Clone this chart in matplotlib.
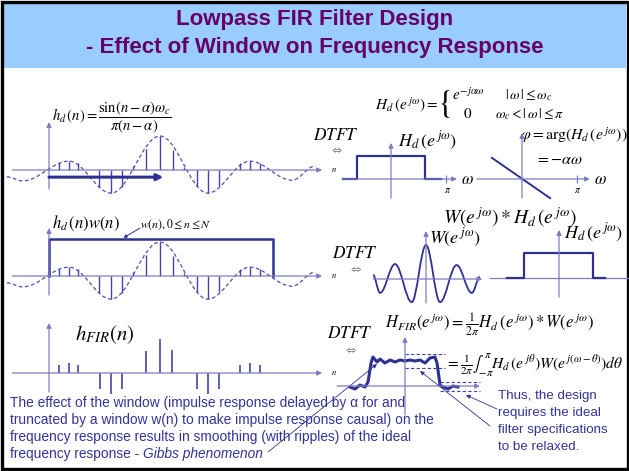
import matplotlib
matplotlib.use('Agg')
import matplotlib.pyplot as plt
from matplotlib.path import Path
from matplotlib.patches import PathPatch, Rectangle

plt.rcParams['font.family'] = ['Liberation Sans', 'DejaVu Sans']
plt.rcParams['mathtext.fontset'] = 'stix'

W, H = 629, 471

# ---------------- data ----------------
# ideal impulse response h_d(n), delayed by alpha = 10 (peak = 1)
hd_n   = [0.9, 1.8, 2.6, 4.5, 5.6, 6.6, 7.6, 8.7, 10.0, 11.2, 12.2, 13.3, 14.3, 15.3, 17.2, 18.1, 19.0]
hd_val = [0.21, 0.26, 0.21, -0.5, -0.68, -0.5, 0.12, 0.62, 1.0, 0.58, 0.09, -0.47, -0.68, -0.47, 0.21, 0.26, 0.21]

# dashed sinc envelope: extrema (n, value)
env_n   = [-3.8, -2.4, 1.8, 5.6, 10.0, 14.3, 18.1, 21.9, 24.0]
env_val = [-0.2, -0.32, 0.26, -0.68, 1.0, -0.68, 0.26, -0.3, 0.12]

# truncated FIR impulse response h_FIR(n)
fir_n   = [0.9, 1.8, 2.6, 4.6, 5.6, 6.6, 8.7, 10.0, 11.1, 13.3, 14.3, 15.3, 17.2, 18.1, 19.0]
fir_val = [0.24, 0.29, 0.24, -0.47, -0.62, -0.47, 0.65, 1.0, 0.68, -0.47, -0.62, -0.47, 0.24, 0.29, 0.24]

# rectangular window w(n), 0 <= n <= N
win_n = [0, 0, 20.2, 20.2]
win_h = [0, 1.09, 1.09, 0]

# ideal lowpass magnitude (top) and phase
hd_w   = [-2.75, -1.96, -1.96, 1.96, 1.96, 2.86]
hd_mag = [0, 0, 1, 1, 0, 0]
ph_w   = [-1.71, 1.6]
ph_val = [1.2, -1.09]

# W(e^jw): extrema of the window spectrum
ww_w   = [-3.01, -2.61, -1.76, -0.81, 0, 0.80, 1.74, 2.60, 3.07]
ww_val = [0.12, -0.41, 0.44, -0.68, 1.0, -0.68, 0.41, -0.41, 0.06]

# ideal lowpass (middle)
hd2_w   = [-2.95, -1.99, -1.99, 1.93, 1.93, 2.61]
hd2_mag = [0, 0, 1, 1, 0, 0]

# resulting H_FIR(e^jw)
fir_w = [-3.13, -2.84, -2.56, -2.27, -2.10, -1.93, -1.82, -1.59, -1.42, -1.14, -0.85, -0.57, -0.28,
         0, 0.28, 0.57, 0.85, 1.14, 1.42, 1.70, 1.82, 1.99, 2.16, 2.44, 2.73, 3.01]
fir_mag = [-0.04, -0.12, 0.04, -0.04, 0.16, 0.92, 1.16, 0.96, 1.08, 0.92, 1.04, 0.96, 1.04,
           1.0, 1.04, 1.0, 1.04, 0.92, 1.12, 1.16, 0.92, 0.04, -0.04, -0.12, 0.0, -0.04]
pass_tol = [1.28, 0.72]
stop_tol = [0.16, -0.2]

text_left = ["The effect of the window (impulse response delayed by \u03b1 for and",
             "truncated by a window w(n) to make impulse response causal) on the",
             "frequency response results in smoothing (with ripples) of the ideal",
             "frequency response - "]
text_right = ["Thus, the design", "requires the ideal", "filter specifications", "to be relaxed."]

# ---------------- style ----------------
AX_C = '#7C7CC2'
STEM_C = '#4545A5'
DASH_C = '#5050B0'
HEAVY = '#2E3192'
TXT_C = '#333399'
TITLE_C = '#660066'

fig = plt.figure(figsize=(W / 100, H / 100), dpi=100)
ax = fig.add_axes([0, 0, 1, 1])
ax.set_xlim(0, W)
ax.set_ylim(H, 0)
ax.axis('off')

ax.add_patch(Rectangle((3, 3), 623, 65, facecolor='#99CCFF', edgecolor='none'))
ax.add_patch(Rectangle((1.5, 1.5), 626, 467, facecolor='none', edgecolor='black', lw=2.4))

ax.text(315, 20, 'Lowpass FIR Filter Design', ha='center', va='center',
        fontsize=16, fontweight='bold', color=TITLE_C)
ax.text(315, 48, '- Effect of Window on Frequency Response', ha='center', va='center',
        fontsize=16, fontweight='bold', color=TITLE_C)


def panel(ox, oy, sx, sy, xlim, ylim):
    x0 = ox + xlim[0] * sx
    x1 = ox + xlim[1] * sx
    yt = oy - ylim[1] * sy
    yb = oy - ylim[0] * sy
    a = fig.add_axes([x0 / W, 1 - yb / H, (x1 - x0) / W, (yb - yt) / H])
    a.set_xlim(*xlim)
    a.set_ylim(*ylim)
    a.axis('off')
    return a


def arrow(a, x0, y0, x1, y1, color=AX_C, lw=0.9, ms=7):
    a.annotate('', xy=(x1, y1), xytext=(x0, y0), annotation_clip=False,
               arrowprops=dict(arrowstyle='-|>', color=color, lw=lw, mutation_scale=ms,
                               shrinkA=0, shrinkB=0))


def smooth(xs, ys, k=0.36):
    verts = [(xs[0], ys[0])]
    codes = [Path.MOVETO]
    for i in range(len(xs) - 1):
        d = xs[i + 1] - xs[i]
        verts += [(xs[i] + k * d, ys[i]), (xs[i + 1] - k * d, ys[i + 1]), (xs[i + 1], ys[i + 1])]
        codes += [Path.CURVE4] * 3
    return Path(verts, codes)


def t(x, y, s, size, **kw):
    kw.setdefault('va', 'center')
    kw.setdefault('color', 'black')
    return ax.text(x, y, s, fontsize=size, **kw)


# ---------------- left column ----------------
SX, SY = 11.1, 34
for oy, top in [(170, 1.41), (276, 1.41), (373, 1.47)]:
    a = panel(49, oy, SX, SY, (-4.2, 26.5), (-0.8, 1.6))
    arrow(a, -3.3, 0, 24.6, 0)
    arrow(a, 0, -0.56, 0, top)
    a.text(25.4, 0, '$n$', fontsize=6, va='center', color='black')
    if oy < 300:
        a.add_patch(PathPatch(smooth(env_n, env_val), fill=False, ls=(0, (3, 2)), lw=0.9, color=DASH_C))
        a.vlines(hd_n, 0, hd_val, color=STEM_C, lw=1.0)
        if oy == 170:
            arrow(a, 0, -0.21, 10.3, -0.21, color=HEAVY, lw=2.2, ms=9)
        else:
            a.plot(win_n, win_h, color=HEAVY, lw=1.8)
            arrow(a, 8.2, 1.41, 6.7, 1.12, color=HEAVY, lw=0.7, ms=5)
    else:
        a.vlines(fir_n, 0, fir_val, color=STEM_C, lw=1.2)

t(52, 117, r'$h_d\,(n)=\dfrac{\sin(n-\alpha)\omega_c}{\pi(n-\alpha)}$', 10.5)
t(52, 223, r'$h_d\,(n)w(n)$', 12)
t(140, 225, r'$w(n),0\leq n\leq N$', 8.5)
t(75, 335, r'$h_{FIR}(n)$', 15)

# ---------------- right column ----------------
RS = 17.6
# top: ideal magnitude
a = panel(391, 179, RS, 23, (-3.0, 4.6), (-1.0, 1.8))
arrow(a, -2.75, 0, 3.75, 0)
arrow(a, 0, -0.83, 0, 1.57)
a.plot(hd_w, hd_mag, color=HEAVY, lw=1.6)
a.vlines(3.14, -0.17, 0.17, color=AX_C, lw=0.9)
# top: phase
a = panel(522, 179, RS, RS, (-2.8, 4.2), (-1.3, 2.8))
arrow(a, -2.56, 0, 3.86, 0)
arrow(a, 0, -1.08, 0, 2.61)
a.plot(ph_w, ph_val, color=HEAVY, lw=1.4)
a.vlines(3.14, -0.23, 0.23, color=AX_C, lw=0.9)

t(375, 105, r'$H_d\,(e^{\,j\omega})=$', 11)
ax.text(438, 104, '{', fontsize=24, family='STIXGeneral', va='center', color='black')
t(452, 95, r'$e^{-j\alpha\omega}$', 11)
t(505, 95, r'$|\,\omega\,|\leq\omega_c$', 10)
t(463, 114, r'$0$', 11)
t(495, 114, r'$\omega_c<|\,\omega\,|\leq\pi$', 10)
t(313, 135, r'$DTFT$', 12.5)
t(330, 150, r'$\Leftrightarrow$', 8, color='#777777')
t(398, 141, r'$H_d\,(e^{\,j\omega})$', 13)
t(520, 135, r'$\varphi=\arg(H_d\,(e^{\,j\omega}))$', 11.3)
t(535, 160, r'$=-\alpha\omega$', 11.5)
t(461, 180, r'$\omega$', 12)
t(594, 180, r'$\omega$', 12)
t(444, 190, r'$\pi$', 7)
t(574, 190, r'$\pi$', 7)

# middle: window spectrum and ideal response
a = panel(426, 279, RS, 34, (-3.2, 3.4), (-0.8, 1.5))
arrow(a, -3.0, 0, 3.2, 0)
arrow(a, 0, -0.7, 0, 1.41)
a.add_patch(PathPatch(smooth(ww_w, ww_val), fill=False, lw=1.3, color=HEAVY))
a = panel(559, 278, RS, 25, (-4.0, 4.0), (-0.9, 2.0))
a.plot([-3.92, 3.98], [0, 0], color=AX_C, lw=0.9)
arrow(a, 0, -0.76, 0, 1.92)
a.plot(hd2_w, hd2_mag, color=HEAVY, lw=1.6)

t(510, 217, r'$W(e^{\,j\omega})*H_d\,(e^{\,j\omega})$', 14, ha='center')
t(429, 238, r'$W(e^{\,j\omega})$', 13)
t(564, 233, r'$H_d\,(e^{\,j\omega})$', 13)
t(332, 253, r'$DTFT$', 12.5)
t(349, 269, r'$\Leftrightarrow$', 8, color='#777777')

# bottom: FIR frequency response
a = panel(405, 386, RS, 25, (-3.9, 4.4), (-1.2, 2.0))
arrow(a, -3.86, 0, 4.26, 0)
arrow(a, 0, -1.16, 0, 1.96)
for v in pass_tol:
    a.plot([0, 2.29], [v, v], color=STEM_C, lw=0.8, ls=(0, (3, 2)))
for v in stop_tol:
    a.plot([1.99, 4.26], [v, v], color=STEM_C, lw=0.8, ls=(0, (3, 2)))
a.plot(fir_w, fir_mag, color=HEAVY, lw=2.2, solid_joinstyle='round')

t(327, 333, r'$DTFT$', 12.5)
t(344, 350, r'$\Leftrightarrow$', 8, color='#777777')
t(385, 325, r'$H_{FIR}(e^{\,j\omega})=\frac{1}{2\pi}H_d\,(e^{\,j\omega})*W(e^{\,j\omega})$', 12)
t(445, 365, r'$=\frac{1}{2\pi}\int_{-\pi}^{\pi}H_d\,(e^{\,j\theta})W(e^{\,j(\omega-\theta)})d\theta$', 11.2)

# ---------------- notes ----------------
for i, s in enumerate(text_left):
    last = t(10, 403 + 17 * i, s, 9.9, color=TXT_C)
fig.canvas.draw()
bb = last.get_window_extent(fig.canvas.get_renderer())
x_end = ax.transData.inverted().transform((bb.x1, bb.y0))[0]
t(x_end, 454, 'Gibbs phenomenon', 9.9, color=TXT_C, style='italic')

for i, s in enumerate(text_right):
    t(498, 396 + 17 * i, s, 9.6, color=TXT_C)

for (x0, y0), (x1, y1) in [((268, 452), (377, 364)), ((490, 426), (420, 371)), ((497, 409), (466, 395))]:
    ax.annotate('', xy=(x1, y1), xytext=(x0, y0),
                arrowprops=dict(arrowstyle='-|>', color=TXT_C, lw=0.6, mutation_scale=6,
                                shrinkA=0, shrinkB=0))

fig.savefig('out.png', dpi=100)
